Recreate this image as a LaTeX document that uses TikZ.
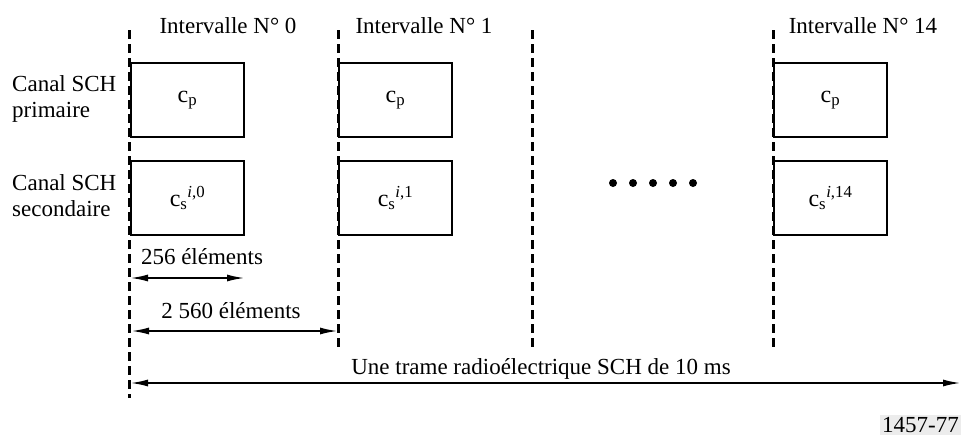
\documentclass[tikz,border=0pt]{standalone}
\usepackage{fontspec}
\setmainfont{Liberation Serif}
\usetikzlibrary{arrows.meta}
\begin{document}
\begin{tikzpicture}[x=1pt,y=-1pt,
  txt/.style={font=\fontsize{23}{26}\selectfont, inner sep=0pt},
  slotbox/.style={draw, line width=2pt, minimum width=113pt, minimum height=74pt, inner sep=0pt, anchor=north west, font=\fontsize{24}{26}\selectfont},
  sep/.style={line width=3pt, dash pattern=on 9pt off 5pt},
  dim/.style={line width=2pt, {Latex[length=18pt,width=7pt]}-{Latex[length=18pt,width=7pt]}}]
\useasboundingbox (0,0) rectangle (961,437);
% separators
\coordinate (t0) at (129,30); \coordinate (b0) at (129,398);
\coordinate (t1) at (338,30); \coordinate (b1) at (338,348);
\coordinate (t2) at (532,30); \coordinate (b2) at (532,348);
\coordinate (t3) at (773,30); \coordinate (b3) at (773,348);
\draw[sep] (t0) -- (b0);
\draw[sep] (t1) -- (b1);
\draw[sep] (t2) -- (b2);
\draw[sep] (t3) -- (b3);
% titles
\node[txt] (i0) at (228,26) {Intervalle N° 0};
\node[txt] (i1) at (424,26) {Intervalle N° 1};
\node[txt] (i14) at (863,26) {Intervalle N° 14};
% row labels
\node[txt, align=left, anchor=west] (lp) at (12,99) {Canal SCH\\primaire};
\node[txt, align=left, anchor=west] (ls) at (12,196) {Canal SCH\\secondaire};
% boxes
\node[slotbox] (p0) at (130,62) {\raisebox{-4pt}{c\textsubscript{p}}};
\node[slotbox] (s0) at (130,160) {\raisebox{-4pt}{c\textsubscript{s}\textsuperscript{\textit{i},0}}};
\node[slotbox] (p1) at (338,62) {\raisebox{-4pt}{c\textsubscript{p}}};
\node[slotbox] (s1) at (338,160) {\raisebox{-4pt}{c\textsubscript{s}\textsuperscript{\textit{i},1}}};
\node[slotbox] (p14) at (773,62) {\raisebox{-4pt}{c\textsubscript{p}}};
\node[slotbox] (s14) at (773,160) {\raisebox{-4pt}{c\textsubscript{s}\textsuperscript{\textit{i},14}}};
% dots
\foreach \x in {613,633,653,673,693} \fill (\x,183) circle (4pt);
% dimensions
\coordinate (a1) at (130,278); \coordinate (a2) at (245,278);
\draw[dim] (a1) -- (a2);
\node[txt] (l256) at (202,257) {256 éléments};
\coordinate (c1) at (131,331); \coordinate (c2) at (338,331);
\draw[dim] (c1) -- (c2);
\node[txt] (l2560) at (231,311) {2 560 éléments};
\coordinate (d1) at (130,383); \coordinate (d2) at (961,383);
\draw[dim] (d1) -- (d2);
\node[txt] (ltr) at (541,369) {Une trame radioélectrique SCH de 10 ms};
% figure number
\node[txt, fill=gray!15, anchor=east, inner xsep=2pt, inner ysep=2pt] (fig) at (961,425) {1457-77};
\end{tikzpicture}
\end{document}
